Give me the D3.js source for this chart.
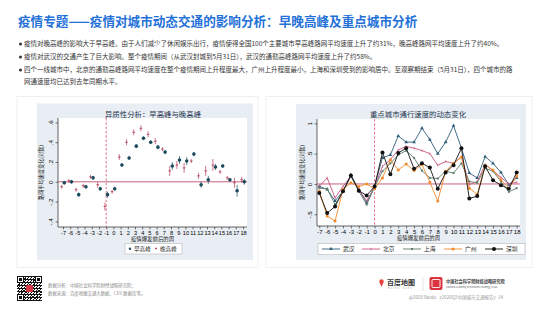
<!DOCTYPE html>
<html><head><meta charset="utf-8">
<script src="https://cdn.jsdelivr.net/npm/d3@7/dist/d3.min.js"></script>
<style>
body{margin:0;background:#fff;}
svg{display:block;font-family:"Noto Sans CJK SC","Noto Sans",sans-serif;}
</style>
</head><body>
<svg id="c" width="557" height="311"></svg>
<script>
// ---------------- DATA ----------------
const weeks = [-7,-6,-5,-4,-3,-2,-1,0,1,2,3,4,5,6,7,8,9,10,11,12,13,14,15,16,17,18];
const weekLabels = ["-7","-6","-5","-4","-3","-2","-1","0","1","2","3","4","5","6","7","8","9","10","11","12","13","14","15","16","17","18"];

// left: heterogeneity, morning vs evening peak (coef + CI half width)
const morningPeak = [-0.01,0.00,-0.13,-0.05,0.04,-0.07,-0.13,-0.07,0.17,0.24,0.36,0.44,0.40,0.35,0.30,0.16,0.22,0.21,0.28,-0.03,0.02,0.15,0.16,0.02,-0.09,0.00];
const morningCI   = [0.02,0.02,0.02,0.02,0.02,0.02,0.03,0.02,0.02,0.02,0.02,0.02,0.02,0.02,0.02,0.04,0.04,0.04,0.02,0.03,0.04,0.03,0.02,0.02,0.06,0.03];
const eveningPeak = [-0.05,0.01,-0.08,-0.04,0.05,-0.03,-0.25,-0.10,0.25,0.40,0.50,0.54,0.48,0.41,0.33,0.11,0.17,0.14,0.21,0.06,0.11,0.17,0.10,0.04,-0.01,0.02];
const eveningCI   = [0.02,0.02,0.02,0.02,0.02,0.03,0.04,0.02,0.03,0.03,0.03,0.03,0.03,0.03,0.02,0.05,0.04,0.05,0.02,0.03,0.05,0.06,0.02,0.02,0.05,0.03];
const leftYTicks = [-0.4,-0.2,0,0.2,0.4,0.6];
const leftSeriesNames = ["早高峰","晚高峰"];

// right: key cities
const cityNames = ["武汉","北京","上海","广州","深圳"];
const wuhan     = [-0.04,-0.09,-0.28,-0.12,0.15,-0.09,-0.31,-0.04,0.43,0.48,0.79,0.69,0.69,0.92,0.73,0.50,0.69,0.96,0.59,0.18,0.10,0.45,0.34,0.19,-0.01,0.10];
const beijing   = [-0.04,0.10,-0.23,-0.04,0.13,-0.09,-0.28,-0.05,0.29,0.40,0.56,0.62,0.59,0.55,0.50,0.31,0.37,0.34,0.45,-0.01,0.04,0.32,0.22,0.11,0.00,0.03];
const shanghai  = [-0.07,-0.08,-0.34,-0.13,0.13,-0.12,-0.34,-0.05,0.21,0.34,0.48,0.55,0.43,0.22,0.10,0.09,0.21,0.18,0.34,0.04,0.02,0.26,0.21,0.04,-0.13,-0.07];
const guangzhou = [-0.12,-0.53,-0.61,-0.09,0.02,-0.04,0.00,-0.08,0.10,0.40,0.23,0.33,0.22,0.32,0.03,-0.28,0.21,0.34,0.44,-0.07,-0.17,0.31,0.23,0.07,-0.07,0.13];
const shenzhen  = [-0.15,-0.48,-0.37,-0.12,0.14,-0.11,-0.19,-0.04,0.52,0.16,0.51,0.59,0.25,0.34,0.27,-0.08,0.19,0.31,0.59,-0.24,-0.20,0.29,0.06,-0.02,-0.08,0.19];
const rightYTicks = [-0.5,0,0.5,1];

// texts
const titleText = "疫情专题——疫情对城市动态交通的影响分析：早晚高峰及重点城市分析";
const bullets = [
  "疫情对晚高峰的影响大于早高峰。由于人们减少了休闲娱乐出行，疫情使得全国100个主要城市早高峰路网平均速度上升了约31%，晚高峰路网平均速度上升了约40%。",
  "疫情对武汉的交通产生了巨大影响。整个疫情期间（从武汉封城到5月31日），武汉的通勤高峰路网平均速度上升了约58%。",
  "四个一线城市中，北京的通勤高峰路网平均速度在整个疫情期间上升程度最大，广州上升程度最小，上海和深圳受到的影响居中。至观察期结束（5月31日），四个城市的路",
  "网通速度均已达到去年同期水平。"
];
const leftTitle = "异质性分析：早高峰与晚高峰";
const rightTitle = "重点城市通行速度的动态变化";
const xTitle = "疫情爆发前后的周";
const yTitle = "路网平均速度变化(对数)";
const footer1 = "数据分析：中国社会科学院财经战略研究院；";
const footer2 = "数据来源：百度地图交通大数据、CEIC数据库等。";
const copyright = "@2020 Baidu 《2020Q2中国城市交通报告》14";

// ---------------- DRAW ----------------
const svg = d3.select("#c");
svg.append("rect").attr("width",557).attr("height",311).attr("fill","#fff");

svg.append("text").attr("x",18).attr("y",25.5).attr("font-size",12.6).attr("font-weight",700)
  .attr("fill","#2270d8").text(titleText);

const bY = [46.3,59.3,72.3,84.3];
bullets.forEach((t,i)=>{
  if(i<3) svg.append("circle").attr("cx",20.5).attr("cy",bY[i]-2.3).attr("r",1.5).attr("fill","#333");
  svg.append("text").attr("x",24).attr("y",bY[i]).attr("font-size",6.5).attr("fill","#333").text(t);
});

// cards
[[17,258],[266,532]].forEach(([a,b])=>{
  svg.append("rect").attr("x",a).attr("y",96.5).attr("width",b-a).attr("height",171)
    .attr("fill","#fff").attr("stroke","#ebebeb").attr("stroke-width",0.8);
});

const stataFmt = d => d===0 ? "0" : (d<0?"-":"") + String(Math.abs(d)).replace(/^0/,"");

function stataFrame(g, opt){
  g.append("rect").attr("x",opt.gx0).attr("y",opt.gy0).attr("width",opt.gx1-opt.gx0).attr("height",opt.gy1-opt.gy0).attr("fill","#e8eef3");
  g.append("rect").attr("x",opt.px0).attr("y",opt.py0).attr("width",opt.px1-opt.px0).attr("height",opt.py1-opt.py0).attr("fill","#fff");
  g.append("text").attr("x",opt.tx).attr("y",opt.ty).attr("text-anchor","middle").attr("font-size",7.4).attr("fill","#1f3550").text(opt.title);
  // axes
  const xa = g.append("g").attr("transform",`translate(0,${opt.py1})`)
    .call(d3.axisBottom(opt.x).tickValues(weeks).tickSize(2.5).tickFormat((d,i)=>weekLabels[i]));
  xa.select(".domain").attr("d",`M${opt.px0},0H${opt.px1}`).attr("stroke","#000").attr("stroke-width",0.6);
  xa.selectAll(".tick line").attr("stroke","#000").attr("stroke-width",0.5);
  xa.selectAll(".tick text").attr("font-size",opt.xfs).attr("fill","#000").attr("dy",0).attr("y",8.2)
    .attr("font-family","'Liberation Sans',Arial,sans-serif");
  const ya = g.append("g").attr("transform",`translate(${opt.px0},0)`)
    .call(d3.axisLeft(opt.y).tickValues(opt.yt).tickSize(2.5).tickFormat(stataFmt));
  ya.select(".domain").attr("d",`M0,${opt.py0}V${opt.py1}`).attr("stroke","#000").attr("stroke-width",0.6);
  ya.selectAll(".tick line").attr("stroke","#000").attr("stroke-width",0.5);
  ya.selectAll(".tick text").attr("font-size",6.2).attr("fill","#000").attr("x",0).attr("dy",0)
    .attr("text-anchor","middle").attr("transform","translate(-5.5,0) rotate(-90)")
    .attr("font-family","'Liberation Sans',Arial,sans-serif");
  g.append("text").attr("x",(opt.px0+opt.px1)/2).attr("y",opt.py1+14.2).attr("text-anchor","middle")
    .attr("font-size",5.4).attr("fill","#222").text(xTitle);
  g.append("text").attr("transform",`translate(${opt.ytx},${(opt.py0+opt.py1)/2}) rotate(-90)`)
    .attr("text-anchor","middle").attr("font-size",5.2).attr("fill","#222").text(yTitle);
  // reference lines
  g.append("line").attr("x1",opt.px0).attr("x2",opt.px1).attr("y1",opt.y(0)).attr("y2",opt.y(0))
    .attr("stroke","#c0506e").attr("stroke-width",0.9);
  g.append("line").attr("x1",opt.x(opt.vline)).attr("x2",opt.x(opt.vline)).attr("y1",opt.py0).attr("y2",opt.py1)
    .attr("stroke","#e0607c").attr("stroke-width",0.9).attr("stroke-dasharray","2.5,1.8");
}

// ---- left chart ----
const L = svg.append("g");
const xL = d3.scaleLinear().domain([-7,18]).range([63,243]);
const yL = d3.scaleLinear().domain([-0.4,0.6]).range([221.4,122.4]);
stataFrame(L,{gx0:37,gy0:103.5,gx1:253,gy1:260,px0:58,py0:118,px1:247,py1:227,tx:153,ty:116.5,title:leftTitle,
  x:xL,y:yL,yt:leftYTicks,ytx:43,vline:-1,xfs:5.6});
const cM="#1d4b5e", cE="#b23a54";
weeks.forEach((w,i)=>{
  const xe = xL(w)-1.3, xm = xL(w)+1.3;
  L.append("line").attr("x1",xe).attr("x2",xe).attr("y1",yL(eveningPeak[i]-eveningCI[i])).attr("y2",yL(eveningPeak[i]+eveningCI[i]))
    .attr("stroke",cE).attr("stroke-width",0.8).attr("opacity",0.85);
  L.append("line").attr("x1",xe-1.3).attr("x2",xe+1.3).attr("y1",yL(eveningPeak[i])).attr("y2",yL(eveningPeak[i]))
    .attr("stroke",cE).attr("stroke-width",0.9);
  L.append("line").attr("x1",xm).attr("x2",xm).attr("y1",yL(morningPeak[i]-morningCI[i])).attr("y2",yL(morningPeak[i]+morningCI[i]))
    .attr("stroke",cM).attr("stroke-width",0.8).attr("opacity",0.85);
  L.append("circle").attr("cx",xm).attr("cy",yL(morningPeak[i])).attr("r",1.8).attr("fill",cM);
});
// left legend
L.append("rect").attr("x",125).attr("y",243.5).attr("width",57).attr("height",10.5).attr("fill","#fff").attr("stroke","#aaa").attr("stroke-width",0.5);
L.append("circle").attr("cx",130).attr("cy",248.7).attr("r",1.2).attr("fill",cM);
L.append("text").attr("x",134).attr("y",250.7).attr("font-size",5.6).attr("fill","#222").text(leftSeriesNames[0]);
L.append("line").attr("x1",155).attr("x2",157).attr("y1",248.5).attr("y2",248.5).attr("stroke",cE).attr("stroke-width",0.8);
L.append("line").attr("x1",156).attr("x2",156).attr("y1",247.5).attr("y2",249.5).attr("stroke",cE).attr("stroke-width",0.8);
L.append("text").attr("x",160).attr("y",250.7).attr("font-size",5.6).attr("fill","#222").text(leftSeriesNames[1]);

// ---- right chart ----
const R = svg.append("g");
const xR = d3.scaleLinear().domain([-7,18]).range([319.3,516.7]);
const yR = d3.scaleLinear().domain([-0.5,1]).range([214.3,123.3]);
stataFrame(R,{gx0:296,gy0:104,gx1:526,gy1:260,px0:317,py0:119,px1:520,py1:226,tx:418,ty:117,title:rightTitle,
  x:xR,y:yR,yt:rightYTicks,ytx:304,vline:0,xfs:6});
const series = [
  {name:cityNames[0],v:wuhan,c:"#2e5e7c",m:"tri"},
  {name:cityNames[1],v:beijing,c:"#c8557f",m:"plus"},
  {name:cityNames[2],v:shanghai,c:"#5c7c6a",m:"sq"},
  {name:cityNames[3],v:guangzhou,c:"#f28a2c",m:"dot"},
  {name:cityNames[4],v:shenzhen,c:"#111",m:"big"}
];
function marker(g,type,x,y,c){
  if(type==="tri") g.append("path").attr("d",d3.symbol(d3.symbolTriangle,6)()).attr("transform",`translate(${x},${y})`).attr("fill",c);
  else if(type==="plus"){ g.append("line").attr("x1",x).attr("x2",x).attr("y1",y-1.3).attr("y2",y+1.3).attr("stroke",c).attr("stroke-width",0.7);}
  else if(type==="sq") g.append("rect").attr("x",x-1).attr("y",y-1).attr("width",2).attr("height",2).attr("fill",c);
  else if(type==="dot") g.append("circle").attr("cx",x).attr("cy",y).attr("r",1.5).attr("fill",c);
  else g.append("circle").attr("cx",x).attr("cy",y).attr("r",2).attr("fill",c);
}
const line = d3.line().x((d,i)=>xR(weeks[i])).y(d=>yR(d));
series.forEach(s=>{
  R.append("path").attr("d",line(s.v)).attr("fill","none").attr("stroke",s.c).attr("stroke-width",0.9);
  s.v.forEach((d,i)=>marker(R,s.m,xR(weeks[i]),yR(d),s.c));
});
// right legend
R.append("rect").attr("x",318).attr("y",243.5).attr("width",207).attr("height",11).attr("fill","#fff").attr("stroke","#aaa").attr("stroke-width",0.5);
const legX = [322,362,403,444,485];
series.forEach((s,i)=>{
  const lx = legX[i];
  R.append("line").attr("x1",lx).attr("x2",lx+18).attr("y1",249).attr("y2",249).attr("stroke",s.c).attr("stroke-width",0.9);
  marker(R,s.m,lx+9,249,s.c);
  R.append("text").attr("x",lx+21).attr("y",251.1).attr("font-size",5.8).attr("fill","#222").text(s.name);
});

// ---------------- FOOTER ----------------
const qr = svg.append("g").attr("transform","translate(17,276)");
qr.append("rect").attr("width",25).attr("height",25).attr("fill","#fff");
const N=25;
for(let i=0;i<N;i++)for(let j=0;j<N;j++){
  const inFinder=(i<7&&j<7)||(i<7&&j>=N-7)||(i>=N-7&&j<7);
  if(inFinder) continue;
  if(((i*i+j*3+i*j)%3===0)||((i+j)%5===0&&i%2===0))
    qr.append("rect").attr("x",j).attr("y",i).attr("width",1).attr("height",1).attr("fill","#111");
}
[[0,0],[0,18],[18,0]].forEach(([a,b])=>{
  qr.append("rect").attr("x",b+0.5).attr("y",a+0.5).attr("width",6).attr("height",6).attr("fill","none").attr("stroke","#111");
  qr.append("rect").attr("x",b+2).attr("y",a+2).attr("width",3).attr("height",3).attr("fill","#111");
});
qr.append("rect").attr("x",9).attr("y",9).attr("width",7).attr("height",7).attr("rx",1.5).attr("fill","#d83a4a");

svg.append("text").attr("x",48).attr("y",286.5).attr("font-size",4.4).attr("fill","#888").text(footer1);
svg.append("text").attr("x",48).attr("y",294.5).attr("font-size",4.4).attr("fill","#888").text(footer2);

// baidu logo
svg.append("circle").attr("cx",381.5).attr("cy",281.5).attr("r",2.2).attr("fill","#e8413a");
svg.append("path").attr("d","M379.6,282.6 L381.5,287 L383.4,282.6Z").attr("fill","#e8413a");
svg.append("text").attr("x",387).attr("y",285).attr("font-size",7).attr("font-weight",700).attr("fill","#333").text("百度地图");
svg.append("text").attr("x",388).attr("y",289).attr("font-size",2.2).attr("fill","#999").attr("letter-spacing",1.2).text("BAIDU MAPS");
svg.append("line").attr("x1",423).attr("x2",423).attr("y1",277).attr("y2",291).attr("stroke","#ccc").attr("stroke-width",0.5);
svg.append("rect").attr("x",429.5).attr("y",277).attr("width",13).attr("height",13).attr("rx",2).attr("fill","#d9343f");
svg.append("rect").attr("x",432).attr("y",279.5).attr("width",8).attr("height",8).attr("rx",1).attr("fill","none").attr("stroke","#fff").attr("stroke-width",0.9);
svg.append("text").attr("x",446).attr("y",283).attr("font-size",4.2).attr("font-weight",700).attr("fill","#444").text("中国社会科学院财经战略研究院");
svg.append("text").attr("x",446).attr("y",287.5).attr("font-size",2.4).attr("fill","#666").text("National Academy of Economic Strategy, CASS");
svg.append("text").attr("x",503).attr("y",298.5).attr("text-anchor","end").attr("font-size",4.5).attr("fill","#999").text(copyright);
</script>
</body></html>
